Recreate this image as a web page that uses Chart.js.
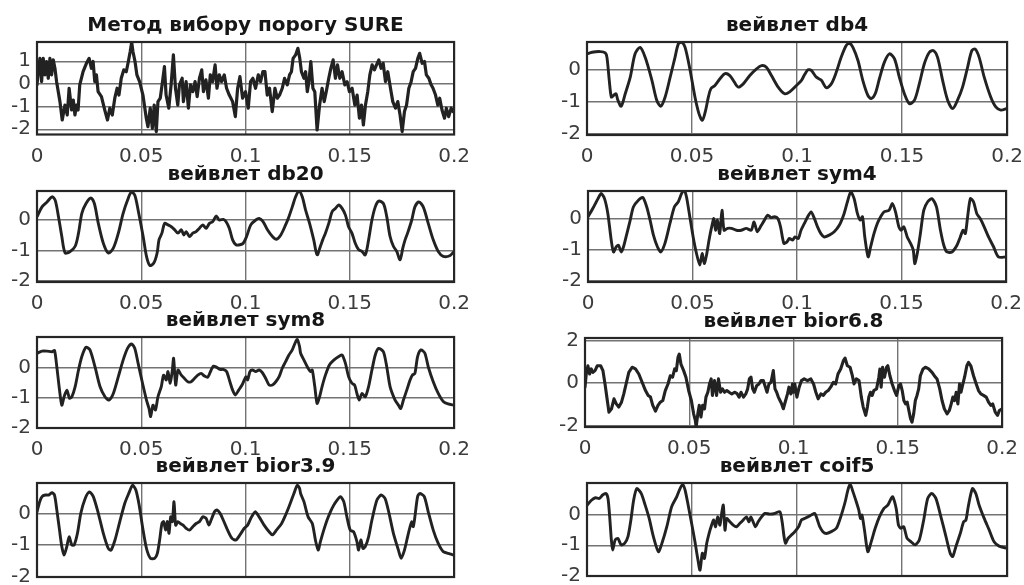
<!DOCTYPE html>
<html>
<head>
<meta charset="utf-8">
<script src="https://cdn.jsdelivr.net/npm/chart.js@4.4.1/dist/chart.umd.min.js"></script>
<style>
  html, body { margin: 0; padding: 0; width: 1024px; height: 585px; overflow: hidden; background: #fff; }
  .panel { position: absolute; }
</style>
</head>
<body>
<script>
// time axis ticks (s)
const xTicks = [0, 0.05, 0.1, 0.15, 0.2];

const titles = [
  "Метод вибору порогу SURE", "вейвлет db4",
  "вейвлет db20", "вейвлет sym4",
  "вейвлет sym8", "вейвлет bior6.8",
  "вейвлет bior3.9", "вейвлет coif5"
];

// --- SURE thresholding (noisy) ---
const sureT = [
  0, 0.0006, 0.0014, 0.0022, 0.0030, 0.0038, 0.0046, 0.0054, 0.0062, 0.0070,
  0.0078, 0.0086, 0.0094, 0.0110, 0.0121, 0.0134, 0.0145, 0.0154, 0.0166, 0.0174,
  0.0182, 0.0189, 0.0197, 0.0205, 0.0221, 0.0237, 0.0250, 0.0261, 0.0269, 0.0277,
  0.0285, 0.0293, 0.0309, 0.0325, 0.0338, 0.0349, 0.0361, 0.0373, 0.0384, 0.0393,
  0.0404, 0.0416, 0.0428, 0.0438, 0.0447, 0.0454, 0.0460, 0.0470, 0.0479, 0.0492,
  0.0508, 0.0524, 0.0532, 0.0543, 0.0553, 0.0562, 0.0572, 0.0580, 0.0591, 0.0604,
  0.0611, 0.0619, 0.0632, 0.0643, 0.0654, 0.0664, 0.0675, 0.0683, 0.0696, 0.0702,
  0.0715, 0.0726, 0.0736, 0.0747, 0.0758, 0.0768, 0.0779, 0.0790, 0.0798, 0.0810,
  0.0822, 0.0831, 0.0842, 0.0854, 0.0863, 0.0874, 0.0885, 0.0898, 0.0909, 0.0922,
  0.0938, 0.0951, 0.0962, 0.0973, 0.0986,
  0.1000, 0.1013, 0.1024, 0.1035, 0.1048, 0.1061, 0.1072, 0.1083, 0.1093, 0.1104,
  0.1115, 0.1128, 0.1141, 0.1152, 0.1163, 0.1176, 0.1187, 0.1200, 0.1211, 0.1220,
  0.1228, 0.1240, 0.1251, 0.1260, 0.1268, 0.1280, 0.1288, 0.1296, 0.1304, 0.1313,
  0.1323, 0.1332, 0.1343, 0.1355, 0.1367, 0.1377, 0.1387, 0.1399, 0.1409, 0.1420,
  0.1431, 0.1441, 0.1452, 0.1463, 0.1476, 0.1487, 0.1498, 0.1511, 0.1524, 0.1535,
  0.1546, 0.1556, 0.1565, 0.1575, 0.1586, 0.1596, 0.1607, 0.1618, 0.1628, 0.1639,
  0.1650, 0.1660, 0.1671, 0.1682, 0.1695, 0.1706, 0.1719, 0.1730, 0.1741, 0.1751,
  0.1762, 0.1772, 0.1783, 0.1794, 0.1804, 0.1815, 0.1826, 0.1835, 0.1847, 0.1858,
  0.1867, 0.1879, 0.1890, 0.1899, 0.1911, 0.1922, 0.1931, 0.1942, 0.1954, 0.1963,
  0.1974, 0.1986, 0.1995, 0.2000
];
const sureV = [
  -0.04, 0.54, 1.13, 0.10, 1.13, 0.40, 0.99, 0.25, 1.13, 0.40,
  1.06, 0.69, 0.10, -0.78, -1.59, -0.93, -1.37, -0.19, -1.15, -0.71,
  -1.37, -0.93, -1.15, -0.04, 0.54, 0.91, 1.13, 0.69, 0.99, 0.10,
  0.40, -0.34, -0.56, -1.15, -1.59, -1.07, -1.37, -0.63, -0.19, -0.49,
  0.25, 0.62, 0.54, 0.99, 1.43, 1.84, 1.43, 0.99, 0.40, 0.10,
  -0.49, -1.51, -1.88, -1.07, -1.96, -0.93, -2.10, -0.78, -0.63, 0.25,
  0.76, -0.49, -1.07, -0.04, 1.28, -0.19, -0.93, -0.04, 0.25, -0.78,
  0.10, -1.07, -0.04, -0.34, 0.10, -0.56, 0.25, 0.62, -0.34, 0.18,
  -0.63, 0.40, 0.10, 0.84, -0.19, 0.40, 0.10, 0.40, -0.19, -0.49,
  -0.78, -1.44, -0.19, 0.32, -0.63,
  -0.34, -1.07, 0.10, 0.25, -0.19, 0.40, 0.10, 0.54, 0.54, -0.49,
  -0.19, -1.22, -0.19, -0.63, -0.49, -0.19, 0.25, -0.04, 0.40, 0.54,
  1.13, 1.28, 1.57, 1.13, 0.54, 0.25, 0.54, -0.34, 0.10, 0.99,
  -0.19, -0.34, -2.03, -0.93, -0.19, -0.78, -0.34, 0.25, 0.69, 1.06,
  0.25, 0.84, 0.25, 0.54, -0.04, 0.10, -0.34, -0.19, -0.93, -0.49,
  -1.51, -0.93, -1.81, -0.93, -0.34, 0.40, 0.84, 0.62, 0.84, 1.06,
  0.69, 0.91, 0.10, 0.54, -0.19, -0.78, -1.07, -0.78, -1.37, -2.10,
  -1.22, -0.93, -0.19, 0.10, 0.54, 0.69, 1.13, 1.35, 0.91, 0.99,
  0.40, 0.25, -0.04, -0.19, -0.49, -0.93, -0.63, -1.15, -1.51, -1.07,
  -1.44, -1.07, -1.22, -1.15
];

// --- db4 ---
const db4T = [
  0, 0.0024, 0.0063, 0.0087, 0.0095, 0.0106, 0.0116, 0.0127, 0.0138, 0.0147,
  0.0163, 0.0182, 0.0206, 0.0229, 0.0253, 0.0277, 0.0309, 0.0332, 0.0351, 0.0372,
  0.0396, 0.0419, 0.0435, 0.0451, 0.0467, 0.0491, 0.0514, 0.0533, 0.0549, 0.0565,
  0.0578, 0.0590, 0.0609, 0.0633, 0.0657, 0.0680, 0.0701, 0.0720, 0.0744, 0.0775,
  0.0807, 0.0831, 0.0854, 0.0878, 0.0910, 0.0941, 0.0965, 0.0997, 0.1021, 0.1036,
  0.1052, 0.1068, 0.1092, 0.1116, 0.1139, 0.1163, 0.1187, 0.1210, 0.1234, 0.1250,
  0.1266, 0.1290, 0.1313, 0.1337, 0.1353, 0.1372, 0.1392, 0.1416, 0.1440, 0.1464,
  0.1487, 0.1511, 0.1535, 0.1559, 0.1582, 0.1606, 0.1630, 0.1650, 0.1669, 0.1693,
  0.1717, 0.1741, 0.1764, 0.1788, 0.1812, 0.1832, 0.1848, 0.1867, 0.1891, 0.1922,
  0.1946, 0.1970, 0.2000
];
const db4V = [
  0.49, 0.54, 0.56, 0.52, 0.38, -0.34, -0.86, -0.81, -0.76, -0.96,
  -1.15, -0.76, -0.24, 0.49, 0.69, 0.38, -0.34, -0.96, -1.15, -0.86,
  -0.24, 0.38, 0.80, 0.85, 0.69, -0.03, -0.86, -1.38, -1.59, -1.27,
  -0.86, -0.60, -0.50, -0.29, -0.13, -0.19, -0.39, -0.55, -0.45, -0.19,
  0.02, 0.12, 0.07, -0.19, -0.55, -0.76, -0.70, -0.50, -0.34, -0.16,
  -0.01, -0.03, -0.24, -0.34, -0.57, -0.45, -0.08, 0.38, 0.75, 0.82,
  0.69, 0.28, -0.34, -0.81, -0.91, -0.76, -0.29, 0.23, 0.49, 0.33,
  -0.24, -0.76, -1.07, -0.96, -0.45, 0.18, 0.54, 0.59, 0.38, -0.34,
  -0.96, -1.22, -0.96, -0.55, 0.07, 0.59, 0.64, 0.38, -0.24, -0.86,
  -1.17, -1.27, -1.22
];

// --- db20 ---
const db20T = [
  0, 0.0024, 0.0048, 0.0072, 0.0087, 0.0103, 0.0119, 0.0135, 0.0159, 0.0183,
  0.0199, 0.0215, 0.0235, 0.0258, 0.0275, 0.0294, 0.0318, 0.0342, 0.0366, 0.0390,
  0.0413, 0.0434, 0.0453, 0.0469, 0.0485, 0.0509, 0.0525, 0.0541, 0.0560, 0.0576,
  0.0585, 0.0599, 0.0612, 0.0628, 0.0644, 0.0660, 0.0676, 0.0692, 0.0704, 0.0715,
  0.0731, 0.0747, 0.0763, 0.0779, 0.0795, 0.0811, 0.0827, 0.0843, 0.0859, 0.0874,
  0.0894, 0.0906, 0.0922, 0.0938, 0.0954, 0.0973, 0.0989, 0.1005, 0.1025, 0.1049,
  0.1065, 0.1084, 0.1105, 0.1129, 0.1148, 0.1169, 0.1192, 0.1208, 0.1224, 0.1240,
  0.1256, 0.1272, 0.1288, 0.1307, 0.1327, 0.1343, 0.1359, 0.1370, 0.1383, 0.1399,
  0.1415, 0.1431, 0.1447, 0.1463, 0.1479, 0.1494, 0.1510, 0.1526, 0.1542, 0.1558,
  0.1574, 0.1590, 0.1606, 0.1622, 0.1638, 0.1661, 0.1677, 0.1693, 0.1709, 0.1725,
  0.1741, 0.1754, 0.1765, 0.1777, 0.1797, 0.1812, 0.1831, 0.1852, 0.1876, 0.1900,
  0.1924, 0.1948, 0.1979, 0.2000
];
const db20V = [
  0.11, 0.43, 0.59, 0.76, 0.65, 0.11, -0.54, -1.08, -1.03, -0.86,
  -0.43, 0.22, 0.54, 0.72, 0.54, -0.11, -0.76, -1.08, -0.92, -0.43,
  0.22, 0.65, 0.92, 0.81, 0.32, -0.54, -1.19, -1.49, -1.41, -1.08,
  -0.65, -0.43, -0.11, -0.16, -0.22, -0.32, -0.43, -0.32, -0.49, -0.38,
  -0.54, -0.43, -0.38, -0.27, -0.16, -0.27, -0.11, -0.05, 0.13, 0.00,
  0.02, -0.05, -0.27, -0.65, -0.81, -0.81, -0.76, -0.54, -0.16, 0.00,
  0.05, -0.05, -0.32, -0.54, -0.63, -0.49, -0.16, 0.11, 0.43, 0.76,
  0.95, 0.76, 0.32, -0.11, -0.65, -1.14, -0.86, -0.65, -0.43, -0.11,
  0.27, 0.38, 0.49, 0.38, 0.16, -0.22, -0.43, -0.76, -0.97, -1.03,
  -1.14, -0.65, 0.00, 0.43, 0.62, 0.54, 0.11, -0.54, -0.86, -1.03,
  -1.30, -0.92, -0.65, -0.43, 0.00, 0.43, 0.59, 0.43, -0.11, -0.65,
  -1.03, -1.19, -1.17, -1.03
];

// --- sym4 ---
const sym4T = [
  0, 0.0027, 0.0048, 0.0063, 0.0079, 0.0095, 0.0111, 0.0122, 0.0135, 0.0146,
  0.0159, 0.0170, 0.0186, 0.0202, 0.0217, 0.0241, 0.0262, 0.0281, 0.0297, 0.0313,
  0.0332, 0.0348, 0.0368, 0.0392, 0.0413, 0.0432, 0.0448, 0.0460, 0.0471, 0.0487,
  0.0503, 0.0519, 0.0535, 0.0546, 0.0556, 0.0567, 0.0579, 0.0590, 0.0602, 0.0610,
  0.0619, 0.0630, 0.0641, 0.0651, 0.0667, 0.0686, 0.0710, 0.0733, 0.0757, 0.0781,
  0.0794, 0.0810, 0.0829, 0.0844, 0.0860, 0.0876, 0.0892, 0.0908, 0.0921, 0.0937,
  0.0952, 0.0963, 0.0979, 0.0990, 0.1006, 0.1019, 0.1035, 0.1051, 0.1067, 0.1083,
  0.1098, 0.1114, 0.1130, 0.1154, 0.1178, 0.1202, 0.1225, 0.1241, 0.1257, 0.1273,
  0.1289, 0.1302, 0.1313, 0.1324, 0.1340, 0.1352, 0.1368, 0.1384, 0.1400, 0.1416,
  0.1440, 0.1456, 0.1471, 0.1487, 0.1498, 0.1511, 0.1527, 0.1543, 0.1556, 0.1563,
  0.1575, 0.1590, 0.1606, 0.1625, 0.1646, 0.1667, 0.1686, 0.1702, 0.1717, 0.1741,
  0.1765, 0.1781, 0.1794, 0.1805, 0.1816, 0.1829, 0.1844, 0.1860, 0.1876, 0.1892,
  0.1916, 0.1940, 0.1963, 0.2000
];
const sym4V = [
  0.08, 0.40, 0.67, 0.84, 0.67, 0.18, -0.68, -1.07, -0.90, -0.85,
  -1.07, -0.90, -0.47, -0.03, 0.40, 0.62, 0.71, 0.40, -0.03, -0.52,
  -0.90, -1.07, -0.79, -0.14, 0.40, 0.57, 0.84, 0.95, 0.73, 0.08,
  -0.58, -1.12, -1.50, -1.12, -1.45, -1.17, -0.68, -0.30, 0.02, -0.36,
  -0.03, -0.47, 0.29, -0.36, -0.30, -0.30, -0.36, -0.36, -0.30, -0.36,
  -0.09, -0.41, -0.20, -0.03, 0.13, 0.05, 0.08, 0.02, -0.25, -0.79,
  -0.74, -0.63, -0.68, -0.58, -0.63, -0.36, -0.14, 0.08, 0.24, 0.02,
  -0.25, -0.47, -0.58, -0.52, -0.41, -0.20, 0.18, 0.57, 0.89, 0.67,
  0.18, -0.03, 0.08, -0.58, -1.23, -0.90, -0.47, -0.14, 0.08, 0.24,
  0.29, 0.51, 0.24, -0.25, -0.36, -0.25, -0.58, -0.79, -1.01, -1.45,
  -1.12, -0.47, 0.29, 0.57, 0.67, 0.40, -0.36, -0.85, -1.07, -1.07,
  -0.85, -0.58, -0.36, -0.47, 0.08, 0.67, 0.57, 0.18, 0.02, -0.20,
  -0.58, -0.90, -1.23, -1.23
];

// --- sym8 ---
const sym8T = [
  0, 0.0024, 0.0048, 0.0072, 0.0084, 0.0095, 0.0108, 0.0119, 0.0130, 0.0143,
  0.0156, 0.0167, 0.0183, 0.0199, 0.0215, 0.0235, 0.0254, 0.0278, 0.0302, 0.0326,
  0.0345, 0.0366, 0.0390, 0.0413, 0.0434, 0.0453, 0.0469, 0.0485, 0.0506, 0.0525,
  0.0537, 0.0545, 0.0556, 0.0568, 0.0580, 0.0596, 0.0607, 0.0620, 0.0628, 0.0639,
  0.0649, 0.0655, 0.0665, 0.0676, 0.0692, 0.0707, 0.0723, 0.0739, 0.0755, 0.0771,
  0.0787, 0.0803, 0.0819, 0.0835, 0.0846, 0.0862, 0.0878, 0.0893, 0.0909, 0.0925,
  0.0938, 0.0951, 0.0967, 0.0983, 0.0994, 0.1002, 0.1010, 0.1021, 0.1033, 0.1049,
  0.1065, 0.1081, 0.1097, 0.1113, 0.1129, 0.1145, 0.1161, 0.1176, 0.1192, 0.1208,
  0.1224, 0.1237, 0.1248, 0.1259, 0.1264, 0.1280, 0.1296, 0.1312, 0.1320, 0.1332,
  0.1343, 0.1355, 0.1367, 0.1383, 0.1402, 0.1423, 0.1447, 0.1463, 0.1479, 0.1494,
  0.1510, 0.1523, 0.1534, 0.1545, 0.1558, 0.1574, 0.1590, 0.1606, 0.1622, 0.1638,
  0.1661, 0.1677, 0.1693, 0.1717, 0.1733, 0.1744, 0.1757, 0.1773, 0.1789, 0.1800,
  0.1812, 0.1825, 0.1841, 0.1860, 0.1876, 0.1900, 0.1924, 0.1948, 0.1971, 0.2000
];
const sym8V = [
  0.47, 0.54, 0.54, 0.52, 0.56, 0.02, -0.76, -1.26, -0.98, -0.76,
  -1.03, -0.98, -0.64, -0.09, 0.36, 0.67, 0.58, 0.02, -0.64, -0.98,
  -1.09, -0.87, -0.31, 0.24, 0.63, 0.78, 0.63, 0.13, -0.53, -1.09,
  -1.37, -1.64, -1.26, -1.42, -0.98, -0.64, -0.26, -0.42, -0.14, -0.53,
  -0.09, 0.30, -0.59, -0.09, -0.26, -0.37, -0.48, -0.48, -0.37, -0.26,
  -0.20, -0.29, -0.33, -0.09, 0.04, 0.00, -0.07, -0.07, -0.14, -0.48,
  -0.76, -0.92, -0.76, -0.59, -0.42, -0.31, -0.42, -0.14, -0.09, -0.14,
  -0.09, -0.18, -0.37, -0.59, -0.59, -0.48, -0.31, -0.03, 0.19, 0.41,
  0.58, 0.80, 0.93, 0.69, 0.47, 0.24, 0.02, -0.14, -0.09, -0.64,
  -1.20, -0.98, -0.64, -0.26, 0.08, 0.24, 0.36, 0.41, 0.13, -0.31,
  -0.53, -0.59, -0.87, -1.09, -0.87, -0.98, -0.64, -0.09, 0.41, 0.63,
  0.52, 0.02, -0.64, -1.09, -1.26, -1.37, -1.09, -0.76, -0.42, -0.26,
  -0.20, 0.36, 0.58, 0.47, 0.02, -0.48, -0.87, -1.14, -1.22, -1.26
];

// --- bior6.8 (noisy) ---
const bior68T = [
  0, 0.0006, 0.0014, 0.0022, 0.0030, 0.0038, 0.0048, 0.0059, 0.0075, 0.0086,
  0.0096, 0.0107, 0.0115, 0.0127, 0.0139, 0.0150, 0.0162, 0.0175, 0.0186, 0.0197,
  0.0210, 0.0226, 0.0242, 0.0258, 0.0274, 0.0290, 0.0303, 0.0314, 0.0325, 0.0338,
  0.0350, 0.0361, 0.0373, 0.0385, 0.0398, 0.0409, 0.0420, 0.0430, 0.0438, 0.0446,
  0.0452, 0.0460, 0.0473, 0.0484, 0.0497, 0.0510, 0.0521, 0.0529, 0.0533, 0.0541,
  0.0548, 0.0556, 0.0564, 0.0573, 0.0580, 0.0589, 0.0597, 0.0605, 0.0611, 0.0621,
  0.0631, 0.0640, 0.0650, 0.0659, 0.0669, 0.0680, 0.0691, 0.0704, 0.0717, 0.0728,
  0.0739, 0.0748, 0.0760, 0.0771, 0.0780, 0.0788, 0.0796, 0.0804, 0.0812, 0.0823,
  0.0834, 0.0844, 0.0855, 0.0863, 0.0873, 0.0882, 0.0892, 0.0903, 0.0911, 0.0919,
  0.0927, 0.0935, 0.0943, 0.0951, 0.0962, 0.0971, 0.0978, 0.0987, 0.0995,
  0.1000, 0.1006, 0.1016, 0.1027, 0.1038, 0.1051, 0.1067, 0.1083, 0.1096, 0.1107,
  0.1118, 0.1131, 0.1143, 0.1154, 0.1166, 0.1178, 0.1191, 0.1202, 0.1213, 0.1226,
  0.1239, 0.1247, 0.1258, 0.1271, 0.1282, 0.1290, 0.1301, 0.1314, 0.1325, 0.1334,
  0.1346, 0.1354, 0.1361, 0.1369, 0.1377, 0.1385, 0.1398, 0.1409, 0.1414, 0.1420,
  0.1427, 0.1436, 0.1446, 0.1452, 0.1462, 0.1473, 0.1484, 0.1494, 0.1505, 0.1513,
  0.1521, 0.1529, 0.1537, 0.1545, 0.1553, 0.1561, 0.1568, 0.1576, 0.1584, 0.1592,
  0.1600, 0.1608, 0.1621, 0.1632, 0.1648, 0.1664, 0.1675, 0.1688, 0.1701, 0.1712,
  0.1723, 0.1736, 0.1747, 0.1756, 0.1764, 0.1772, 0.1780, 0.1788, 0.1796, 0.1803,
  0.1812, 0.1820, 0.1831, 0.1839, 0.1850, 0.1863, 0.1876, 0.1887, 0.1898, 0.1911,
  0.1924, 0.1935, 0.1946, 0.1955, 0.1967, 0.1978, 0.1987, 0.2000
];
const bior68V = [
  -0.20, 0.42, 0.81, 0.42, 0.66, 0.50, 0.58, 0.81, 0.81, 0.58,
  -0.05, -0.83, -1.38, -1.22, -0.75, -0.99, -1.14, -0.91, -0.52, -0.05,
  0.50, 0.74, 0.66, 0.42, 0.03, -0.36, -0.59, -0.67, -1.06, -1.33,
  -1.06, -0.91, -0.83, -0.36, -0.05, 0.34, 0.27, 0.66, 0.58, 1.21,
  1.36, 0.89, 0.58, 0.27, -0.36, -0.83, -1.46, -1.77, -2.08, -1.46,
  -1.06, -1.61, -1.06, -1.22, -0.67, -0.44, -0.05, 0.19, -0.59, 0.11,
  -0.59, 0.19, -0.44, -0.28, -0.44, -0.36, -0.44, -0.52, -0.44, -0.49,
  -0.67, -0.44, -0.67, -0.52, -0.28, 0.19, 0.27, -0.28, -0.44, -0.13,
  -0.05, 0.11, 0.11, -0.13, -0.44, -0.05, 0.03, 0.58, -0.28, -0.44,
  -0.67, -0.83, -0.99, -1.22, -0.83, -0.52, -0.20, -0.52, -0.05,
  -0.44, -0.05, -0.67, -0.20, 0.11, 0.19, 0.11, 0.19, -0.05, -0.44,
  -0.75, -0.52, -0.59, -0.44, -0.36, -0.20, 0.03, -0.05, 0.42, 0.66,
  1.05, 1.17, 0.81, 0.74, 0.34, -0.05, 0.19, 0.11, -0.67, -1.14,
  -1.53, -1.14, -0.67, -0.44, -0.59, -0.36, -0.28, 0.27, 0.66, -0.20,
  0.74, 0.27, 0.74, 0.81, 0.34, -0.05, -0.36, -0.59, -0.13, -0.05,
  -0.36, -0.83, -0.99, -0.91, -1.30, -1.69, -1.85, -1.46, -0.83, -0.59,
  -0.28, 0.34, 0.66, 0.74, 0.66, 0.50, 0.34, 0.19, -0.28, -0.83,
  -1.22, -1.46, -1.30, -0.99, -0.67, -0.83, -0.44, -0.99, -0.05, -0.44,
  -0.05, 0.27, 0.81, 0.97, 0.81, 0.34, -0.05, -0.36, -0.52, -0.59,
  -0.67, -0.91, -1.06, -0.99, -1.38, -1.53, -1.30, -1.22
];

// --- bior3.9 ---
const bior39T = [
  0, 0.0013, 0.0024, 0.0040, 0.0056, 0.0072, 0.0084, 0.0095, 0.0108, 0.0119,
  0.0130, 0.0143, 0.0154, 0.0167, 0.0178, 0.0194, 0.0210, 0.0231, 0.0251, 0.0270,
  0.0294, 0.0318, 0.0342, 0.0355, 0.0374, 0.0397, 0.0421, 0.0440, 0.0458, 0.0474,
  0.0490, 0.0506, 0.0525, 0.0544, 0.0564, 0.0577, 0.0588, 0.0599, 0.0607, 0.0617,
  0.0625, 0.0633, 0.0641, 0.0649, 0.0657, 0.0665, 0.0676, 0.0687, 0.0700, 0.0715,
  0.0731, 0.0747, 0.0763, 0.0779, 0.0795, 0.0811, 0.0824, 0.0835, 0.0851, 0.0862,
  0.0878, 0.0893, 0.0914, 0.0935, 0.0954, 0.0973, 0.0994, 0.1010, 0.1025, 0.1046,
  0.1065, 0.1089, 0.1113, 0.1129, 0.1148, 0.1173, 0.1192, 0.1211, 0.1232, 0.1248,
  0.1259, 0.1264, 0.1280, 0.1300, 0.1320, 0.1335, 0.1348, 0.1359, 0.1375, 0.1391,
  0.1407, 0.1423, 0.1439, 0.1455, 0.1471, 0.1486, 0.1502, 0.1518, 0.1534, 0.1542,
  0.1553, 0.1563, 0.1574, 0.1590, 0.1606, 0.1630, 0.1650, 0.1669, 0.1688, 0.1709,
  0.1733, 0.1746, 0.1762, 0.1777, 0.1789, 0.1797, 0.1804, 0.1812, 0.1825, 0.1836,
  0.1857, 0.1876, 0.1900, 0.1924, 0.1948, 0.1979, 0.2000
];
const bior39V = [
  0.05, 0.37, 0.53, 0.58, 0.58, 0.65, 0.58, 0.11, -0.53, -1.05,
  -1.32, -1.05, -0.74, -1.00, -1.00, -0.63, 0.00, 0.47, 0.68, 0.53,
  0.00, -0.63, -1.11, -1.16, -0.84, -0.26, 0.32, 0.63, 0.89, 0.74,
  0.26, -0.42, -1.11, -1.42, -1.42, -1.26, -0.84, -0.32, -0.26, -0.53,
  -0.26, -0.63, -0.11, -0.26, 0.37, -0.37, -0.26, -0.32, -0.37, -0.47,
  -0.53, -0.42, -0.32, -0.26, -0.11, -0.16, -0.37, -0.21, 0.05, 0.11,
  0.00, -0.21, -0.53, -0.79, -0.84, -0.68, -0.47, -0.37, -0.16, 0.05,
  -0.11, -0.37, -0.58, -0.68, -0.53, -0.32, -0.05, 0.26, 0.63, 0.89,
  0.79, 0.63, 0.37, -0.11, -0.32, -0.84, -1.16, -0.89, -0.53, -0.21,
  0.05, 0.26, 0.42, 0.53, 0.37, -0.11, -0.53, -0.58, -0.89, -1.16,
  -0.84, -1.11, -1.05, -0.74, -0.21, 0.42, 0.58, 0.47, 0.00, -0.63,
  -1.16, -1.42, -1.16, -0.74, -0.42, -0.26, -0.42, -0.11, 0.53, 0.63,
  0.53, 0.05, -0.53, -0.95, -1.21, -1.28, -1.32
];

// --- coif5 ---
const coif5T = [
  0, 0.0021, 0.0040, 0.0059, 0.0074, 0.0090, 0.0100, 0.0108, 0.0116, 0.0122,
  0.0134, 0.0147, 0.0163, 0.0179, 0.0195, 0.0209, 0.0222, 0.0237, 0.0258, 0.0277,
  0.0296, 0.0316, 0.0340, 0.0359, 0.0380, 0.0403, 0.0427, 0.0443, 0.0456, 0.0467,
  0.0483, 0.0498, 0.0514, 0.0527, 0.0538, 0.0549, 0.0559, 0.0570, 0.0581, 0.0593,
  0.0603, 0.0612, 0.0622, 0.0633, 0.0641, 0.0649, 0.0657, 0.0665, 0.0680, 0.0696,
  0.0712, 0.0728, 0.0744, 0.0759, 0.0771, 0.0780, 0.0791, 0.0802, 0.0815, 0.0831,
  0.0847, 0.0870, 0.0894, 0.0918, 0.0929, 0.0938, 0.0945, 0.0957, 0.0973, 0.0989,
  0.1002, 0.1008, 0.1021, 0.1036, 0.1052, 0.1068, 0.1084, 0.1097, 0.1108, 0.1123,
  0.1139, 0.1163, 0.1187, 0.1203, 0.1218, 0.1231, 0.1242, 0.1253, 0.1266, 0.1282,
  0.1294, 0.1302, 0.1309, 0.1321, 0.1337, 0.1353, 0.1372, 0.1392, 0.1413, 0.1432,
  0.1448, 0.1456, 0.1472, 0.1483, 0.1495, 0.1508, 0.1524, 0.1543, 0.1562, 0.1582,
  0.1603, 0.1622, 0.1641, 0.1661, 0.1685, 0.1709, 0.1729, 0.1741, 0.1756, 0.1777,
  0.1793, 0.1804, 0.1815, 0.1835, 0.1851, 0.1867, 0.1891, 0.1915, 0.1938, 0.1962,
  0.2000
];
const coif5V = [
  0.30, 0.46, 0.54, 0.52, 0.63, 0.68, 0.52, -0.08, -0.83, -1.16,
  -0.83, -0.78, -0.99, -0.94, -0.72, -0.18, 0.46, 0.84, 0.68, 0.30,
  -0.13, -0.72, -1.21, -0.89, -0.40, 0.25, 0.57, 0.84, 0.97, 0.79,
  0.25, -0.29, -0.89, -1.43, -1.81, -1.26, -1.43, -0.94, -0.62, -0.35,
  -0.18, -0.40, -0.08, -0.35, 0.03, 0.30, -0.51, -0.13, -0.24, -0.35,
  -0.40, -0.29, -0.18, -0.08, -0.24, -0.08, -0.24, -0.40, -0.24, -0.08,
  0.03, 0.01, 0.03, 0.09, -0.24, -0.72, -0.94, -0.78, -0.67, -0.56,
  -0.45, -0.40, -0.18, -0.13, -0.08, -0.02, 0.03, -0.18, -0.40, -0.56,
  -0.62, -0.56, -0.45, -0.18, 0.14, 0.46, 0.79, 0.98, 0.74, 0.41,
  0.14, -0.13, -0.02, -0.51, -1.21, -0.89, -0.45, -0.08, 0.19, 0.30,
  0.52, 0.57, 0.19, -0.35, -0.45, -0.40, -0.78, -0.89, -0.99, -0.83,
  -0.18, 0.52, 0.68, 0.52, -0.08, -0.72, -1.26, -1.37, -1.05, -0.62,
  -0.24, -0.18, 0.25, 0.84, 0.68, 0.30, -0.13, -0.51, -0.89, -1.03,
  -1.10
];

// y tick labels of each panel
const yTicksA = [-2, -1, 0, 1];
const yTicksB = [-2, -1, 0];
const yTicksC = [-2, 0, 2];

// panel layout: box = [left, right, top, bottom] of plot area in page px
const panels = [
  { t: sureT,   v: sureV,   yt: yTicksA, yMin: -2.23, yMax: 1.85, box: [37, 456, 41.5, 134], tension: 0, lw: 3.2 },
  { t: db4T,    v: db4V,    yt: yTicksB, yMin: -2.05, yMax: 0.86, box: [587, 1009, 42, 135], tension: 0.3, lw: 2.9 },
  { t: db20T,   v: db20V,   yt: yTicksB, yMin: -2.03, yMax: 0.95, box: [37, 456, 191, 282], tension: 0.3, lw: 2.9 },
  { t: sym4T,   v: sym4V,   yt: yTicksB, yMin: -2.05, yMax: 0.92, box: [588, 1008, 191, 282], tension: 0.25, lw: 2.9 },
  { t: sym8T,   v: sym8V,   yt: yTicksB, yMin: -2.02, yMax: 1.01, box: [37, 456, 337, 428], tension: 0.25, lw: 2.9 },
  { t: bior68T, v: bior68V, yt: yTicksC, yMin: -2.08, yMax: 2.12, box: [585, 1004, 338, 427], tension: 0, lw: 3.1 },
  { t: bior39T, v: bior39V, yt: yTicksB, yMin: -2.01, yMax: 0.96, box: [37, 456, 483, 577], tension: 0.25, lw: 2.9 },
  { t: coif5T,  v: coif5V,  yt: yTicksB, yMin: -2.0,  yMax: 1.02, box: [587, 1009, 483, 576], tension: 0.25, lw: 2.9 }
];

const FONT = "DejaVu Sans";
const TITLE_H = 28;   // 20px * 1.2 + 4 padding
const X_AXIS_H = 40;
const RIGHT_PAD = 24;

// matlab-like box around the axes
const boxPlugin = {
  id: "axesBox",
  afterDraw(chart) {
    const { ctx, chartArea: a } = chart;
    ctx.save();
    ctx.strokeStyle = "#262626";
    ctx.lineWidth = 2.2;
    ctx.strokeRect(a.left, a.top, a.right - a.left, a.bottom - a.top);
    ctx.restore();
  }
};

panels.forEach((p, i) => {
  const [L, R, T, B] = p.box;
  const yw = L < 300 ? 37 : 50;

  const div = document.createElement("div");
  div.className = "panel";
  div.style.left = (L - yw) + "px";
  div.style.top = (T - TITLE_H) + "px";
  div.style.width = (yw + R - L + RIGHT_PAD) + "px";
  div.style.height = (TITLE_H + B - T + X_AXIS_H) + "px";
  const canvas = document.createElement("canvas");
  div.appendChild(canvas);
  document.body.appendChild(div);

  new Chart(canvas, {
    type: "line",
    data: {
      datasets: [{
        data: p.t.map((x, k) => ({ x, y: p.v[k] })),
        borderColor: "#222222",
        borderWidth: p.lw,
        borderJoinStyle: "round",
        borderCapStyle: "round",
        pointRadius: 0,
        tension: p.tension,
        fill: false
      }]
    },
    options: {
      animation: false,
      responsive: true,
      maintainAspectRatio: false,
      layout: { padding: { left: 0, right: RIGHT_PAD, top: 0, bottom: 0 } },
      plugins: {
        legend: { display: false },
        tooltip: { enabled: false },
        title: {
          display: true,
          text: titles[i],
          fullSize: false,
          color: "#161616",
          font: { family: FONT, size: 20, weight: "bold", lineHeight: 1.2 },
          padding: { top: 0, bottom: 4 }
        }
      },
      scales: {
        x: {
          type: "linear",
          min: 0,
          max: 0.2,
          afterBuildTicks: s => { s.ticks = xTicks.map(v => ({ value: v })); },
          afterFit: s => { s.height = X_AXIS_H; },
          ticks: {
            autoSkip: false,
            maxRotation: 0,
            padding: 10,
            color: "#3c3c3c",
            font: { family: FONT, size: 20 },
            callback: v => String(v)
          },
          grid: { color: "#737373", lineWidth: 1.4, drawTicks: false },
          border: { display: false }
        },
        y: {
          min: p.yMin,
          max: p.yMax,
          afterBuildTicks: s => { s.ticks = p.yt.map(v => ({ value: v })); },
          afterFit: s => { s.width = yw; },
          ticks: {
            autoSkip: false,
            padding: 6,
            color: "#3c3c3c",
            font: { family: FONT, size: 20 },
            callback: v => String(v)
          },
          grid: { color: "#737373", lineWidth: 1.4, drawTicks: false },
          border: { display: false }
        }
      }
    },
    plugins: [boxPlugin]
  });
});
</script>
</body>
</html>
